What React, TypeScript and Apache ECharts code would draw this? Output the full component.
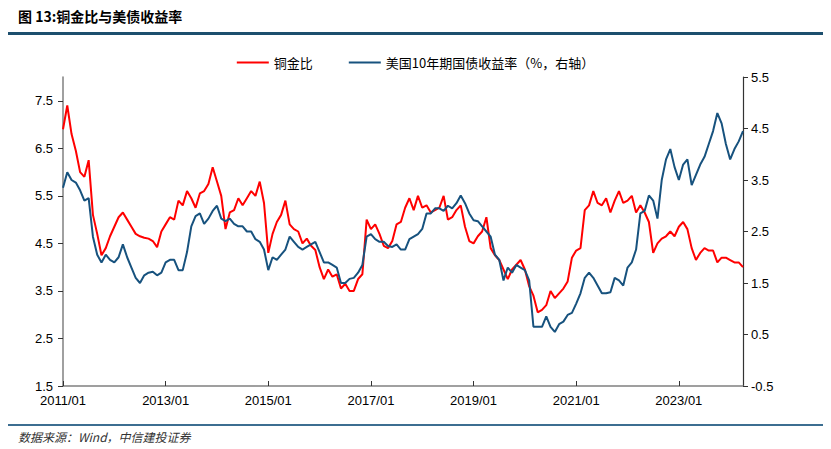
import React, { useEffect, useRef } from "react";
import * as echarts from "echarts";

// Monthly categories 2011/01 .. 2024/04
const startYear = 2011;
const monthCount = 160;
const categories: string[] = Array.from({ length: monthCount }, (_, i) => {
  const y = startYear + Math.floor(i / 12);
  const m = (i % 12) + 1;
  return `${y}/${m < 10 ? "0" + m : m}`;
});

const seriesNames = ["铜金比", "美国10年期国债收益率（%，右轴）"];

// 铜金比 (left axis)
const copperGold: number[] = [
  6.9, 7.4, 6.8, 6.45, 6.0, 5.9, 6.25, 5.1, 4.7, 4.25, 4.4, 4.65,
  4.85, 5.05, 5.15, 5.0, 4.85, 4.7, 4.65, 4.62, 4.6, 4.55, 4.42, 4.75,
  4.9, 5.05, 5.0, 5.4, 5.3, 5.6, 5.45, 5.25, 5.55, 5.6, 5.75, 6.1,
  5.8, 5.5, 4.8, 5.15, 5.2, 5.45, 5.3, 5.45, 5.6, 5.5, 5.8, 5.35,
  4.3, 4.7, 4.95, 5.1, 5.4, 4.9, 4.8, 4.75, 4.5, 4.6, 4.45, 4.36,
  4.0, 3.75, 3.95, 3.8, 3.85, 3.55, 3.65, 3.5, 3.5, 3.75, 3.85, 5.0,
  4.8, 4.9, 4.7, 4.45, 4.4, 4.55, 4.9, 4.95, 5.25, 5.45, 5.2, 5.5,
  5.25, 5.3, 5.15, 5.2, 5.25, 5.5, 5.0, 5.05, 5.2, 5.3, 4.85, 4.55,
  4.5, 4.65, 4.75, 5.05, 4.4, 4.25, 4.15, 3.95, 3.75, 3.95, 4.05, 4.15,
  3.95, 3.6, 3.4, 3.05, 3.1, 3.2, 3.5, 3.35, 3.45, 3.55, 3.7, 4.2,
  4.35, 4.4, 5.2, 5.3, 5.6, 5.35, 5.3, 5.45, 5.15, 5.4, 5.6, 5.35,
  5.4, 5.5, 5.15, 5.3, 5.15, 4.95, 4.3, 4.5, 4.6, 4.65, 4.75, 4.65,
  4.85, 4.95, 4.8, 4.4, 4.15, 4.3, 4.4, 4.35, 4.35, 4.1, 4.2, 4.2,
  4.15, 4.1, 4.1, 4.0,
];

// 美国10年期国债收益率 (right axis, %)
const ust10y: number[] = [
  3.35, 3.65, 3.5, 3.45, 3.3, 3.1, 3.15, 2.4, 2.05, 1.9, 2.05, 1.95,
  1.9, 2.0, 2.25, 2.0, 1.8, 1.6, 1.5, 1.65, 1.7, 1.72, 1.65, 1.7,
  1.9, 1.95, 1.95, 1.75, 1.75, 2.1, 2.6, 2.8, 2.85, 2.65, 2.75, 2.9,
  3.0, 2.75, 2.7, 2.75, 2.65, 2.6, 2.6, 2.5, 2.5, 2.35, 2.3, 2.15,
  1.75, 2.0, 1.95, 2.05, 2.15, 2.4, 2.3, 2.2, 2.15, 2.2, 2.25, 2.3,
  2.1, 1.9, 1.9, 1.85, 1.8, 1.5, 1.5, 1.58, 1.6, 1.7, 1.85, 2.4,
  2.45, 2.35, 2.3, 2.3, 2.22, 2.2, 2.25, 2.15, 2.15, 2.35, 2.4, 2.45,
  2.55, 2.85, 2.85, 2.95, 2.95, 2.9, 3.0, 2.95, 3.05, 3.2, 3.05, 2.85,
  2.72, 2.7, 2.6, 2.5, 2.4, 2.05, 1.95, 1.55, 1.8, 1.7, 1.85, 1.8,
  1.75, 1.55, 0.65, 0.65, 0.65, 0.85, 0.65, 0.55, 0.7, 0.75, 0.88, 0.92,
  1.1, 1.3, 1.6, 1.7, 1.6, 1.45, 1.3, 1.3, 1.32, 1.6, 1.55, 1.45,
  1.8, 1.9, 2.15, 2.85, 2.9, 3.2, 3.1, 2.75, 3.5, 3.9, 4.1, 3.75,
  3.5, 3.8, 3.9, 3.4, 3.6, 3.8, 3.95, 4.2, 4.45, 4.8, 4.6, 4.2,
  3.9, 4.1, 4.25, 4.45,
];

const leftTicks = [1.5, 2.5, 3.5, 4.5, 5.5, 6.5, 7.5];
const rightTicks = [-0.5, 0.5, 1.5, 2.5, 3.5, 4.5, 5.5];

const titleText = "图 13:铜金比与美债收益率";
const sourceText = "数据来源：Wind，中信建投证券";

const RED = "#FF0000";
const BLUE = "#17527E";
const FONT = "'Liberation Sans', Arial, 'Noto Sans CJK SC', sans-serif";
const CJK = "'Noto Sans CJK SC', sans-serif";

export default function App() {
  const ref = useRef<HTMLDivElement>(null);

  useEffect(() => {
    if (!ref.current) return;
    const chart = echarts.init(ref.current, null, { renderer: "svg" });
    const labelStyle = { color: "#000", fontSize: 13, fontFamily: FONT };
    chart.setOption({
      animation: false,
      backgroundColor: "#fff",
      grid: { left: 63, right: 88, top: 77, bottom: 63, containLabel: false },
      legend: {
        top: 51,
        left: "center",
        itemWidth: 32,
        itemHeight: 14,
        itemGap: 36,
        textStyle: { color: "#000", fontSize: 13, fontFamily: CJK },
        data: seriesNames.map((n) => ({ name: n, icon: "path://M0,6 L32,6 L32,8 L0,8 Z" })),
      },
      xAxis: {
        type: "category",
        data: categories,
        boundaryGap: false,
        axisLine: { onZero: false, lineStyle: { color: "#808080", width: 1.5 } },
        axisTick: {
          inside: true,
          length: 5,
          interval: 23,
          lineStyle: { color: "#333" },
        },
        axisLabel: { ...labelStyle, interval: 23, margin: 8 },
        splitLine: { show: false },
      },
      yAxis: [
        {
          type: "value",
          min: 1.5,
          max: 8,
          position: "left",
          axisLine: { show: true, lineStyle: { color: "#808080", width: 1.5 } },
          axisTick: {
            show: true,
            length: 5,
            customValues: leftTicks,
            lineStyle: { color: "#333" },
          },
          axisLabel: {
            ...labelStyle,
            customValues: leftTicks,
            formatter: (v: number) => v.toFixed(1),
            margin: 10,
          },
          splitLine: { show: false },
        },
        {
          type: "value",
          min: -0.5,
          max: 5.5,
          position: "right",
          axisLine: { show: true, lineStyle: { color: "#333", width: 1.2 } },
          axisTick: {
            show: true,
            length: 5,
            customValues: rightTicks,
            lineStyle: { color: "#333" },
          },
          axisLabel: {
            ...labelStyle,
            customValues: rightTicks,
            formatter: (v: number) => v.toFixed(1),
            margin: 8,
          },
          splitLine: { show: false },
        },
      ],
      series: [
        {
          name: seriesNames[0],
          type: "line",
          yAxisIndex: 0,
          data: copperGold,
          symbol: "none",
          lineStyle: { color: RED, width: 2 },
          itemStyle: { color: RED },
          z: 2,
        },
        {
          name: seriesNames[1],
          type: "line",
          yAxisIndex: 1,
          data: ust10y,
          symbol: "none",
          lineStyle: { color: BLUE, width: 2 },
          itemStyle: { color: BLUE },
          z: 3,
        },
      ],
      graphic: [
        {
          type: "text",
          left: 18,
          top: 9,
          style: {
            text: titleText,
            fill: "#000",
            fontSize: 14,
            fontWeight: "bold",
            fontFamily: CJK,
          },
        },
        {
          type: "rect",
          shape: { x: 8, y: 32, width: 815, height: 3 },
          style: { fill: "#1D4F6E" },
        },
        {
          type: "rect",
          shape: { x: 8, y: 424, width: 815, height: 2 },
          style: { fill: "#3C6E91" },
        },
        {
          type: "text",
          left: 18,
          top: 430,
          style: {
            text: sourceText,
            fill: "#333",
            fontSize: 12,
            fontStyle: "italic",
            fontFamily: CJK,
          },
        },
      ],
    });
    return () => chart.dispose();
  }, []);

  return (
    <div
      ref={ref}
      style={{ position: "fixed", left: 0, top: 0, width: 831, height: 449, background: "#fff" }}
    />
  );
}
